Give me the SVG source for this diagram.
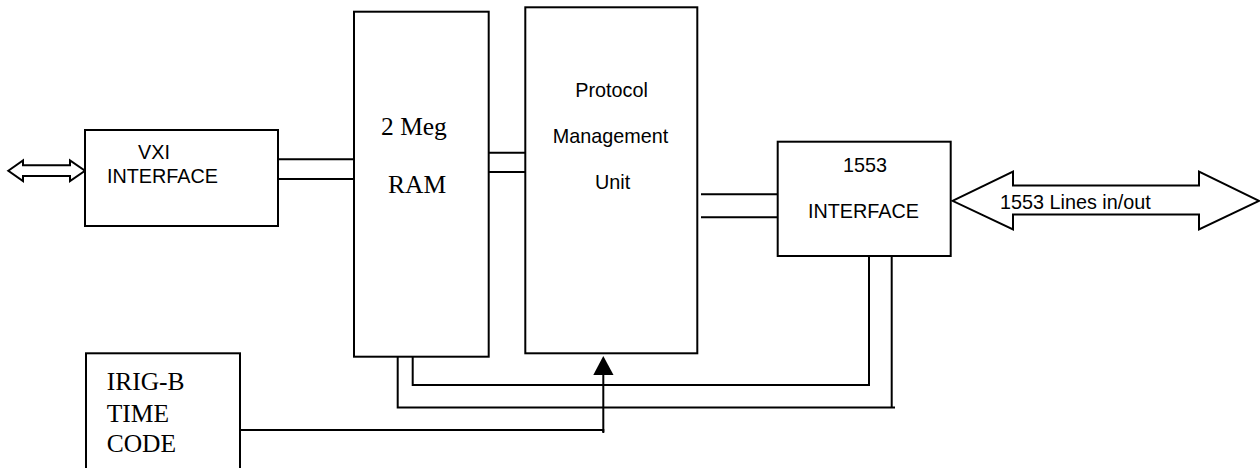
<svg xmlns="http://www.w3.org/2000/svg" width="1260" height="468" viewBox="0 0 1260 468">
<style>
.box{fill:#fff;stroke:#000;stroke-width:2}
.ln{fill:none;stroke:#000;stroke-width:2}
.head{fill:#000;stroke:none}
.sans{font-family:"Liberation Sans",Arial,sans-serif;font-size:19.8px;fill:#000}
.serif{font-family:"Liberation Serif","Times New Roman",serif;font-size:25.5px;fill:#000}
</style>
<rect width="1260" height="468" fill="#fff"/>
<g id="connectors">
<path class="ln" d="M278,159.3 H354 M278,179 H354"/>
<path class="ln" d="M489,152.7 H527 M489,172 H527"/>
<path class="ln" d="M701,194.3 H778 M701,217.3 H778"/>
<path class="ln" d="M412.7,353 V385 H869 V256"/>
<path class="ln" d="M397.7,353 V407.5 H895 M891.7,407.5 V254.5"/>
<path class="ln" d="M238,430 H603.3 V433"/>
<path class="ln" d="M603.3,432 V372"/>
<polygon class="head" points="603.3,356 613.5,375 593.3,375"/>
<path class="box" d="M8.3,170.7 L23,160.5 V165.3 H70 V160.5 L85,170.7 L70,181 V176 H23 V181 Z"/>
<path class="box" d="M952.5,200.8 L1013,171.7 V185.5 H1199 V171.7 L1259,200.8 L1199,229.3 V214.5 H1013 V229.3 Z"/>
<text class="sans" x="1000" y="209">1553 Lines in/out</text>
</g>
<g id="vxi">
<rect class="box" x="85" y="130" width="193" height="96"/>
<text class="sans" x="138" y="159">VXI</text>
<text class="sans" x="107" y="183">INTERFACE</text>
</g>
<g id="ram">
<rect class="box" x="354" y="11.7" width="134.7" height="345"/>
<text class="serif" x="381" y="135">2 Meg</text>
<text class="serif" x="388" y="193">RAM</text>
</g>
<g id="pmu">
<rect class="box" x="525.3" y="7.3" width="172" height="346"/>
<text class="sans" x="575.3" y="96.7">Protocol</text>
<text class="sans" x="552.7" y="142.7">Management</text>
<text class="sans" x="595" y="189.3">Unit</text>
</g>
<g id="if1553">
<rect class="box" x="777.7" y="141.7" width="173" height="114.3"/>
<text class="sans" x="843" y="171.7">1553</text>
<text class="sans" x="808" y="218.3">INTERFACE</text>
</g>
<g id="irig">
<rect class="box" x="86" y="353.3" width="154" height="130"/>
<text class="serif" x="106.7" y="390">IRIG-B</text>
<text class="serif" x="106.7" y="421.7">TIME</text>
<text class="serif" x="106.7" y="451.7">CODE</text>
</g>
</svg>
